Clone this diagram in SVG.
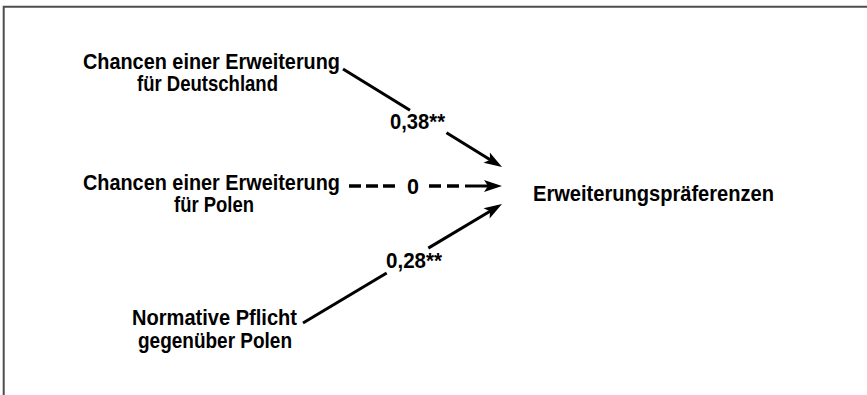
<svg xmlns="http://www.w3.org/2000/svg" width="867" height="395" viewBox="0 0 867 395">
  <style>
    .t { font-family: "Liberation Sans", Arial, sans-serif; font-size: 22px; font-weight: bold; fill: #000; }
    .c { fill: none; stroke: #000; stroke-width: 3; }
    .d { fill: none; stroke: #000; stroke-width: 3.5; }
    .frame { fill: none; stroke: #4d4d4d; stroke-width: 2; }
  </style>
  <defs>
    <marker id="ah" markerUnits="userSpaceOnUse" markerWidth="18" markerHeight="12" refX="6" refY="6" orient="auto" overflow="visible">
      <path d="M0,0 L18,6 L0,12 L4,6 Z" fill="#000"/>
    </marker>
  </defs>
  <rect width="867" height="395" fill="#fff"/>
  <path class="frame" d="M3.7,395 V6.7 H867"/>

  <g id="n1">
    <text class="t" x="83" y="68.5" textLength="257" lengthAdjust="spacingAndGlyphs">Chancen einer Erweiterung</text>
    <text class="t" x="137" y="90.5" textLength="141" lengthAdjust="spacingAndGlyphs">für Deutschland</text>
  </g>
  <g id="n2">
    <text class="t" x="83" y="190" textLength="257" lengthAdjust="spacingAndGlyphs">Chancen einer Erweiterung</text>
    <text class="t" x="174" y="212" textLength="80" lengthAdjust="spacingAndGlyphs">für Polen</text>
  </g>
  <g id="n3">
    <text class="t" x="132" y="325" textLength="165" lengthAdjust="spacingAndGlyphs">Normative Pflicht</text>
    <text class="t" x="138" y="347.5" textLength="154" lengthAdjust="spacingAndGlyphs">gegenüber Polen</text>
  </g>
  <g id="n4">
    <text class="t" x="533" y="200.5" textLength="241" lengthAdjust="spacingAndGlyphs">Erweiterungspräferenzen</text>
  </g>

  <g id="connectors">
    <path class="c" d="M343,69 L410,110.3"/>
    <path class="c" d="M446.5,132.8 L491.8,160.7" marker-end="url(#ah)"/>
    <text class="t" x="390" y="129" textLength="55" lengthAdjust="spacingAndGlyphs">0,38**</text>

    <path class="d" d="M349,186 H361 M366,186 H378 M383,186 H395 M429,186 H441 M447,186 H459"/>
    <path class="c" d="M465,186 H490" marker-end="url(#ah)"/>
    <text class="t" x="413" y="193.5" text-anchor="middle" textLength="12" lengthAdjust="spacingAndGlyphs">0</text>

    <path class="c" d="M303,323 L386.7,273"/>
    <path class="c" d="M428.3,248.1 L491.7,210.2" marker-end="url(#ah)"/>
    <text class="t" x="386" y="267.5" textLength="56" lengthAdjust="spacingAndGlyphs">0,28**</text>
  </g>
</svg>
